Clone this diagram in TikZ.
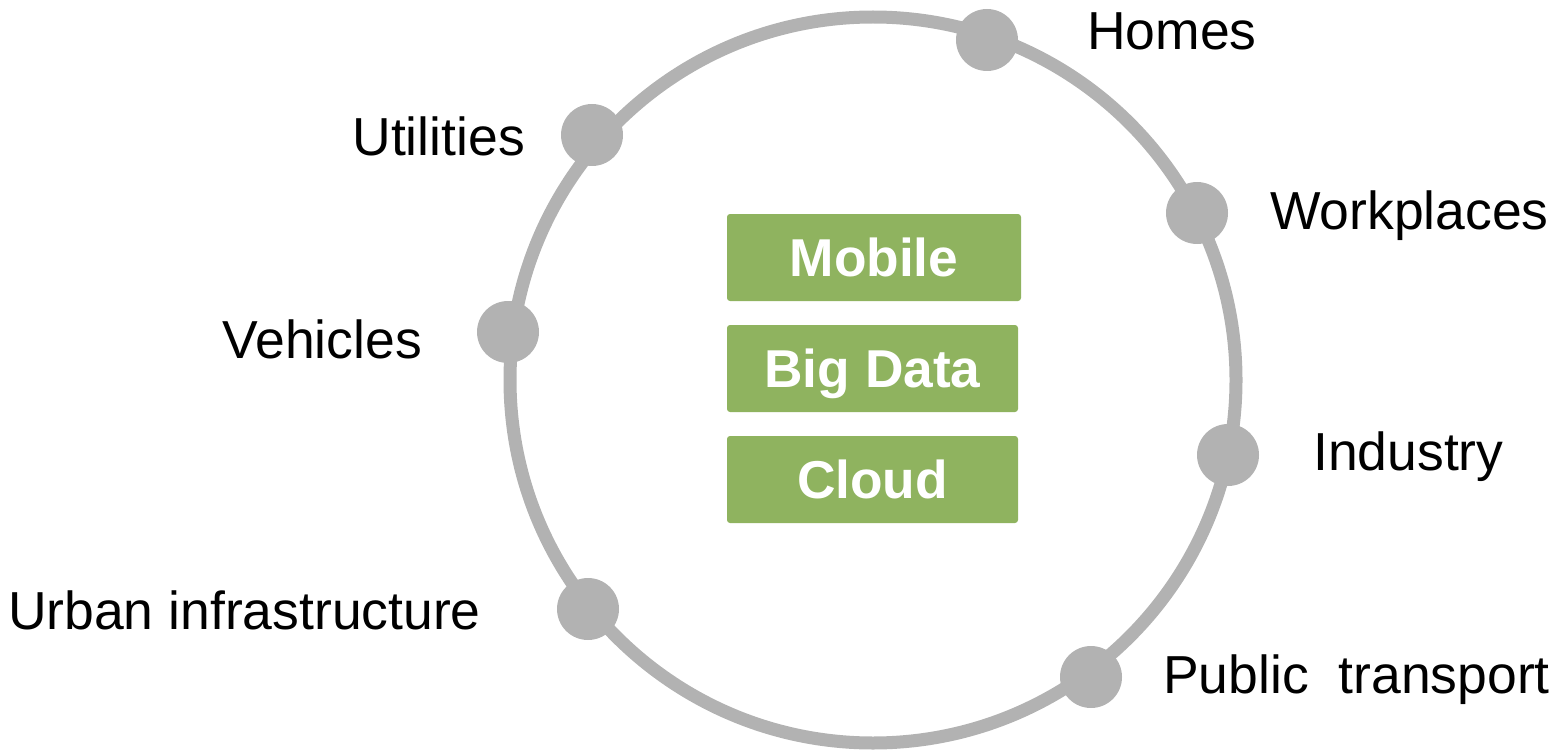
\documentclass[tikz,border=0pt]{standalone}
\usepackage{fontspec}
\setmainfont{Liberation Sans}
\definecolor{ringgray}{HTML}{B2B2B2}
\definecolor{boxgreen}{HTML}{8FB35F}
\begin{document}
\begin{tikzpicture}[x=1pt,y=-1pt,
  ringstyle/.style={circle,draw=ringgray,line width=13pt,minimum size=726pt,inner sep=0},
  dot/.style={circle,fill=ringgray,minimum size=62pt,inner sep=0},
  lbl/.style={inner sep=0,font=\fontsize{53.5}{62}\selectfont,text height=37.5pt,text depth=0pt},
  layer/.style={fill=boxgreen,rounded corners=3pt,minimum width=292pt,minimum height=87pt,inner sep=0,
    text=white,font=\bfseries\fontsize{53.3}{62}\selectfont,text height=38pt,text depth=0pt}]
\useasboundingbox (0,0) rectangle (1557,754);
\node[ringstyle] (ring) at (873,380) {};
% dots
\node[dot] (dhomes) at (987,40) {};
\node[dot] (dutil) at (592,135) {};
\node[dot] (dwork) at (1197,213) {};
\node[dot] (dveh) at (508,332) {};
\node[dot] (dind) at (1228,455) {};
\node[dot] (durban) at (588,609) {};
\node[dot] (dpub) at (1091,677) {};
% labels
\node[lbl,anchor=west] (lhomes) at (1087,31) {Homes};
\node[lbl,anchor=east] (lutil) at (525,137) {Utilities};
\node[lbl,anchor=west] (lwork) at (1270,211) {Workplaces};
\node[lbl,anchor=east] (lveh) at (422,340) {Vehicles};
\node[lbl,anchor=west] (lind) at (1313,452) {Industry};
\node[lbl,anchor=east] (lurban) at (481,611) {Urban infrastructure};
\node[lbl,anchor=west] (lpub) at (1163,674.5) {Public\ \ transport};
% boxes
\node[layer,minimum width=294pt] (mobile) at (874,257.5) {Mobile};
\node[layer,minimum width=291pt] (bigdata) at (872.5,368.5) {Big Data};
\node[layer,minimum width=291pt] (cloud) at (872.5,479.5) {Cloud};
\end{tikzpicture}
\end{document}
